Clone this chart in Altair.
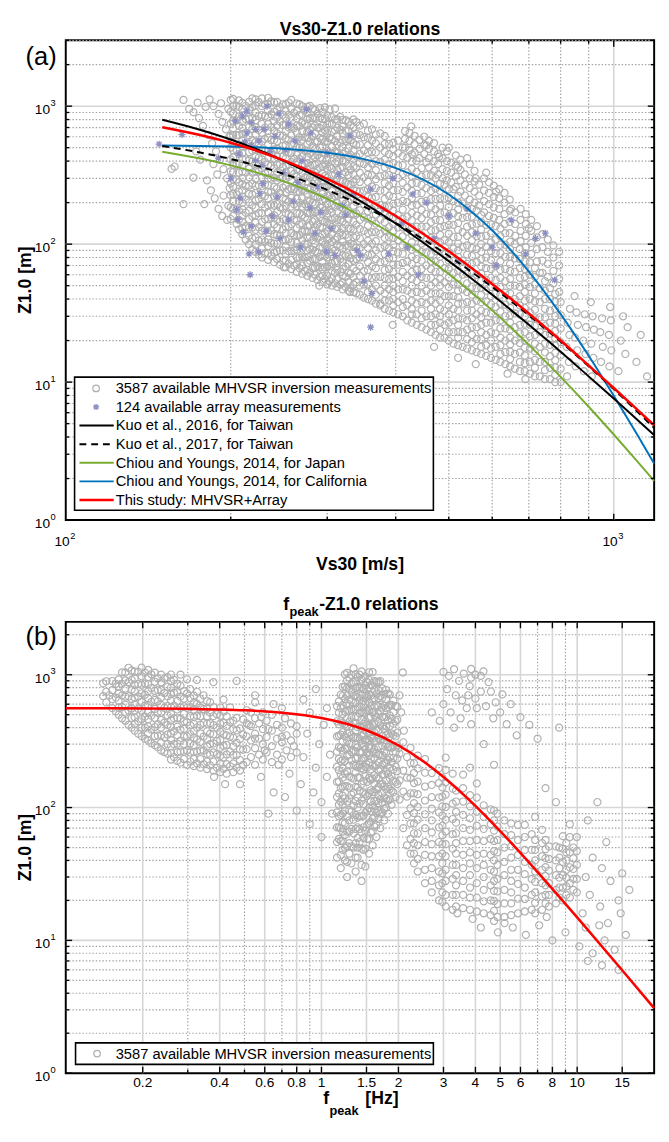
import altair as alt
import pandas as pd

FONT = "Liberation Sans"
GRAY = "#b0b0b0"
STAR_COLOR = "#8c8fc2"
STAR = "M-1,0L1,0M0,-1L0,1M-0.72,-0.72L0.72,0.72M-0.72,0.72L0.72,-0.72"

# ---------------- Panel (a): Vs30 - Z1.0 ----------------
VS_CURVE = [150, 175, 200, 250, 300, 350, 400, 450, 500, 550, 600, 700, 800, 900, 1000, 1100, 1185]
Z_KUO2016 = [797, 678, 573, 402, 281, 198, 141, 102, 75.3, 56.4, 42.9, 26.0, 16.6, 11.0, 7.6, 5.4, 4.13]
Z_KUO2017 = [514, 463, 414, 323, 247, 187, 142, 108, 82, 63, 49, 30.5, 19.6, 13.0, 8.9, 6.2, 4.65]
Z_CY_JAPAN = [467, 419, 372, 285, 213, 156, 114, 83.1, 60.7, 44.6, 33.1, 18.6, 10.9, 6.63, 4.17, 2.71, 1.92]
Z_CY_CALIF = [519, 515, 510, 491, 459, 413, 356, 292, 229, 172, 126, 63.3, 31.1, 15.5, 7.95, 4.25, 2.57]
Z_THIS_A = [705, 621, 543, 405, 297, 218, 160, 118, 88.7, 67.2, 51.5, 31.4, 20.0, 13.2, 9.07, 6.4, 4.86]

A_FLANK = [(156, 351), (158, 365), (164, 195), (179, 195), (171, 304), (164, 1110), (168, 955), (171, 905),
           (173, 470), (176, 410), (181, 290), (184, 245), (187, 215), (190, 180), (193, 160), (197, 150),
           (175, 820), (178, 720), (182, 620), (185, 540), (188, 470), (191, 410), (194, 350), (197, 300),
           (199, 255), (186, 1000), (190, 880), (193, 770), (196, 680), (199, 600), (183, 1120), (192, 1050),
           (198, 960), (180, 990), (174, 1060), (186, 380), (189, 320), (194, 225), (198, 190)]

A_CORE = {
    200: [152, 185, 226, 276, 337, 411, 501, 611, 746, 910, 1110],
    202: [160, 181, 204, 231, 261, 295, 333, 376, 425, 480, 543, 613, 693, 783, 885, 1000, 1130],
    205: [140, 179, 229, 294, 376, 481, 616, 788, 1009],
    207: [128, 150, 175, 205, 240, 281, 329, 385, 450, 527, 616, 721, 843, 987, 1100],
    210: [118, 131, 145, 161, 179, 199, 221, 245, 272, 302, 335, 372, 413, 458, 509, 565, 627, 696, 772, 857, 952, 1057],
    213: [108, 135, 169, 211, 264, 330, 412, 515, 644, 805, 1006],
    216: [100, 115, 132, 152, 175, 201, 231, 266, 306, 352, 405, 465, 535, 615, 708, 814, 936, 1076],
    219: [92, 110, 132, 159, 191, 229, 275, 330, 396, 475, 570, 684, 821, 985, 1140],
    222: [88, 99, 112, 127, 143, 162, 183, 207, 234, 264, 298, 337, 381, 430, 486, 549, 621, 701, 793, 896, 1012, 1120],
    225: [84, 106, 133, 168, 212, 267, 336, 424, 534, 673, 848, 1068],
    228: [80, 93, 108, 125, 145, 168, 195, 227, 263, 305, 354, 411, 476, 553, 641, 744, 863, 1001, 1140],
    231: [86, 104, 126, 152, 184, 223, 270, 327, 395, 478, 579, 700, 847, 1025],
    234: [77, 86, 97, 108, 121, 136, 152, 170, 191, 214, 239, 268, 300, 336, 377, 422, 472, 529, 592, 663, 743, 832, 932, 1044, 1150],
    237: [82, 102, 126, 156, 194, 240, 298, 370, 458, 568, 705, 874, 1084],
    240: [74, 87, 101, 118, 139, 162, 190, 222, 260, 304, 355, 416, 486, 569, 666, 779, 911, 1066],
    243: [78, 89, 101, 116, 132, 150, 171, 195, 223, 254, 290, 330, 376, 429, 489, 557, 635, 724, 826, 941, 1073],
    246: [71, 90, 115, 146, 185, 235, 298, 379, 481, 611, 776, 985],
    249: [76, 90, 108, 128, 152, 181, 216, 257, 305, 363, 432, 515, 612, 729, 867, 1032],
    252: [68, 76, 85, 96, 107, 120, 134, 150, 168, 189, 211, 237, 265, 297, 332, 372, 417, 467, 523, 586, 656, 735, 823, 922, 1033],
    255: [72, 89, 109, 134, 165, 203, 249, 307, 377, 464, 571, 702, 864, 1063],
    258: [66, 77, 89, 103, 120, 139, 161, 187, 217, 252, 292, 339, 393, 456, 529, 614, 712, 826, 958, 1111],
    261: [70, 90, 116, 150, 194, 250, 323, 416, 537, 693, 894],
    264: [63, 71, 80, 91, 102, 116, 131, 148, 167, 189, 213, 241, 272, 308, 348, 393, 444, 502, 567, 641, 724, 818, 925, 1045],
    267: [67, 80, 96, 116, 139, 167, 200, 240, 288, 346, 415, 498, 597, 717, 860, 1032],
    270: [61, 70, 81, 93, 107, 123, 141, 162, 187, 215, 247, 284, 327, 376, 432, 497, 571, 657, 756, 869, 999],
    273: [64, 80, 100, 125, 156, 195, 244, 305, 381, 477, 596, 745, 931],
    276: [59, 65, 73, 81, 90, 100, 111, 123, 136, 151, 168, 186, 207, 230, 255, 283, 314, 349, 387, 430, 477, 529, 588, 652, 724, 804, 892, 990],
    279: [62, 76, 92, 113, 137, 168, 205, 250, 304, 371, 453, 553, 674, 823, 1004],
    282: [57, 67, 78, 91, 107, 125, 146, 171, 200, 234, 274, 320, 375, 438, 513, 600, 702, 821, 961],
    285: [60, 68, 78, 89, 101, 115, 132, 150, 171, 195, 222, 253, 289, 329, 375, 428, 488, 556, 634, 723, 824, 939],
    288: [55, 69, 87, 110, 139, 175, 220, 277, 350, 440, 555, 699, 881],
    291: [58, 68, 81, 95, 113, 133, 157, 185, 218, 258, 304, 359, 423, 500, 590, 696, 821, 969],
    294: [53, 59, 66, 74, 83, 94, 105, 118, 132, 148, 165, 185, 207, 232, 260, 291, 326, 365, 409, 458, 513, 575, 644, 721, 808, 905],
    297: [56, 68, 82, 99, 120, 145, 176, 213, 258, 312, 377, 457, 553, 669, 809, 979],
    300: [51, 59, 69, 80, 92, 107, 124, 144, 167, 194, 225, 261, 303, 351, 407, 473, 548, 636, 738, 856],
    303: [54, 69, 87, 110, 140, 178, 226, 287, 365, 463, 588, 747, 949],
    306: [50, 57, 64, 72, 82, 92, 104, 118, 133, 150, 170, 192, 217, 245, 277, 313, 354, 400, 452, 511, 577, 652, 737, 833],
    310: [52, 62, 75, 90, 108, 129, 155, 186, 224, 268, 322, 386, 464, 557, 668, 802, 962],
    313: [49, 56, 65, 75, 86, 99, 113, 130, 150, 172, 198, 228, 262, 301, 346, 398, 458, 527, 606, 697, 801],
    317: [51, 63, 78, 97, 121, 150, 186, 230, 285, 354, 439, 544, 675, 837],
    320: [47, 53, 59, 66, 74, 83, 93, 104, 116, 130, 146, 163, 183, 205, 229, 257, 288, 322, 361, 404, 452, 507, 567, 635, 712, 797],
    324: [49, 58, 69, 82, 98, 117, 139, 165, 197, 234, 279, 332, 395, 470, 559, 665, 791],
    328: [46, 53, 62, 72, 83, 97, 112, 130, 151, 175, 203, 236, 273, 317, 368, 427, 495, 574, 666, 773],
    331: [48, 61, 79, 101, 129, 165, 211, 270, 346, 443, 567, 726],
    335: [45, 51, 58, 67, 76, 87, 99, 112, 128, 146, 166, 190, 216, 246, 281, 320, 365, 416, 474, 541, 616, 703, 801],
    339: [44, 53, 64, 78, 94, 114, 138, 167, 202, 244, 295, 357, 432, 523, 633, 766],
}

A_MID = {
    344: [43, 50, 59, 69, 80, 94, 110, 129, 150, 176, 206, 241, 282, 330, 386, 451, 528, 618, 723],
    350: [41, 51, 64, 80, 100, 125, 156, 195, 244, 305, 381, 477, 596, 745],
    356: [40, 45, 51, 58, 65, 74, 83, 94, 106, 120, 136, 153, 173, 196, 221, 250, 283, 319, 361, 408, 461, 521, 589, 665],
    362: [39, 47, 57, 69, 84, 101, 122, 148, 179, 217, 262, 317, 384, 465, 562, 680],
    368: [37, 43, 50, 58, 67, 78, 90, 105, 122, 141, 164, 190, 220, 255, 296, 344, 399, 463, 537, 623],
    375: [36, 46, 58, 74, 94, 119, 151, 192, 244, 310, 394, 500, 635],
    382: [34, 39, 44, 50, 57, 65, 75, 85, 97, 111, 126, 144, 164, 187, 213, 243, 277, 316, 360, 410, 468, 533, 608],
    389: [33, 39, 47, 56, 66, 79, 94, 112, 133, 158, 188, 224, 266, 317, 377, 449, 534],
    396: [32, 36, 40, 45, 50, 56, 63, 71, 79, 89, 99, 111, 125, 140, 156, 175, 196, 220, 246, 276, 309, 346, 387, 434, 486, 544],
    404: [31, 38, 47, 58, 71, 87, 107, 132, 162, 200, 246, 302, 372, 457, 562],
    412: [30, 35, 40, 47, 54, 63, 73, 85, 98, 114, 132, 153, 178, 206, 239, 278, 322, 374, 434, 503],
    420: [28, 36, 46, 59, 75, 96, 123, 158, 202, 258, 331, 423],
    428: [27, 31, 34, 39, 44, 50, 56, 63, 72, 81, 91, 103, 117, 132, 149, 168, 190, 215, 243, 275, 310, 351, 396, 448],
    437: [26, 31, 37, 45, 54, 65, 78, 93, 112, 134, 161, 193, 232, 278, 334, 401],
    446: [25, 29, 33, 38, 44, 50, 58, 66, 76, 88, 101, 116, 134, 154, 177, 203, 234, 269, 309, 356],
    455: [24, 30, 37, 46, 57, 70, 87, 108, 134, 166, 206, 255, 317, 393],
    464: [23, 26, 30, 34, 39, 44, 50, 57, 66, 75, 85, 97, 111, 126, 144, 164, 187, 213, 243, 277, 316],
}
A_MID_TOP = {
    416: [500, 580, 660], 424: [480, 560, 640], 433: [460, 530, 610], 442: [420, 490, 570],
    451: [450, 520, 600], 460: [360, 420, 490, 560],
}

A_HIGH = {
    473: [22, 26, 31, 37, 44, 53, 63, 75, 89, 106, 126, 150, 179, 213, 253, 301],
    482: [21, 24, 27, 30, 34, 39, 44, 50, 56, 63, 72, 81, 91, 103, 117, 132, 149, 168, 190, 215, 243, 275],
    491: [21, 26, 33, 42, 53, 67, 85, 107, 135, 170, 214, 270],
    500: [20, 23, 27, 31, 36, 42, 49, 57, 66, 76, 88, 103, 119, 138, 160, 186, 216, 250],
    510: [19, 23, 28, 34, 42, 51, 62, 76, 93, 113, 138, 168, 205, 250],
    520: [18.5, 21, 23, 26, 29, 33, 37, 41, 46, 51, 57, 64, 72, 81, 90, 101, 113, 127, 142, 159, 178, 200, 224],
    530: [18, 23, 29, 37, 47, 60, 76, 96, 122, 155, 197],
    540: [17.5, 20.5, 24, 28, 33, 38, 45, 52, 61, 72, 84, 98, 115, 134, 157, 184],
    551: [17, 19.5, 22, 25, 29, 33, 37, 43, 49, 55, 63, 72, 82, 94, 107, 122, 139, 158, 180],
    562: [16.5, 20.5, 25, 31, 39, 48, 60, 74, 92, 114, 141, 175],
    573: [16, 18, 20.5, 23, 26, 29.5, 33, 38, 43, 48, 54, 61, 69, 78, 88, 100, 113, 128, 144, 163],
    585: [15.5, 18.5, 22, 27, 32, 38.5, 46, 55, 67, 80, 96, 115, 138],
    597: [15, 17.5, 20, 23, 27, 31.5, 36.5, 42, 49, 57, 66, 77, 89, 103, 120, 139],
    609: [14.5, 18, 22.5, 28, 35, 44, 55, 69, 86, 108, 135],
}
A_HIGH_TOP = {
    470: [340, 400, 470, 540], 478: [320, 380, 450], 487: [300, 350, 420, 500], 496: [290, 340, 400, 470],
    505: [280, 330, 390], 515: [260, 310, 370, 440], 525: [240, 290, 345, 410], 535: [225, 270, 320],
    546: [210, 255, 300, 380], 557: [200, 240, 285, 340], 568: [190, 225, 270], 580: [170, 205, 245, 300],
    592: [160, 195, 235, 280], 604: [155, 185, 220, 265],
}

A_STIFF = {
    621: [14, 16, 18.5, 21, 24.5, 28, 32.5, 37, 43, 49, 57, 65, 75, 86, 99, 114, 130],
    634: [13.5, 16.5, 20, 24.5, 30, 36.5, 44.5, 54, 66, 81, 99, 120],
    647: [13, 14.7, 16.6, 18.8, 21, 24, 27, 30.5, 34.5, 39, 44, 50, 56, 64, 72, 81, 92, 104],
    660: [12.5, 16, 20, 25, 31.5, 40, 50, 63, 79, 100],
    674: [12, 14, 16.4, 19.2, 22.5, 26, 31, 36, 42, 49, 57, 67, 78, 92],
    688: [12, 13.7, 15.6, 17.8, 20, 23, 26.5, 30, 34.5, 39, 45, 51, 58, 66, 75, 86],
    703: [11.5, 14, 17.5, 21.5, 26, 32, 40, 49, 60, 74],
    718: [11, 12.7, 14.5, 16.7, 19, 22, 25.5, 29, 33.5, 38.5, 44, 51, 58, 67],
    733: [11, 14, 18, 23, 29.5, 38, 48, 62],
    749: [10.5, 12.2, 14, 16.4, 19, 22, 25.5, 29.5, 34, 40, 46, 54],
    765: [10.5, 12.7, 15.4, 18.6, 22.5, 27, 33, 40, 48],
    782: [10, 11.3, 12.8, 14.4, 16.3, 18.4, 20.8, 23.5, 26.5, 30, 34, 38.5, 43.5],
    800: [10, 12.5, 15.6, 19.5, 24.4, 30.5, 38],
}
A_STIFF_TOP = {
    618: [150, 180, 215, 250], 632: [140, 165, 200, 235], 646: [120, 145, 175, 210], 661: [115, 140, 170],
    676: [105, 125, 150, 180], 691: [95, 115, 140, 165], 707: [85, 102, 125, 150], 724: [75, 92, 112, 135],
    741: [62, 76, 95, 118], 758: [58, 72, 88, 108], 776: [52, 64, 80, 98], 795: [45, 56, 70, 88],
}

A_ROCK = [(822, 11), (828, 14), (820, 18), (830, 22), (824, 27), (832, 34), (852, 13), (858, 17), (850, 21),
          (860, 26), (855, 32), (848, 42), (882, 12), (888, 16), (880, 20), (890, 25), (885, 31), (912, 11),
          (918, 15), (910, 19), (920, 24), (915, 30), (908, 38), (948, 14), (955, 18), (945, 23), (952, 29),
          (982, 13), (990, 17), (980, 22), (988, 28), (985, 35), (1020, 12), (1030, 20), (1050, 16),
          (1060, 25), (1100, 14), (1120, 22), (1150, 11), (1040, 30)]

A_OUTLIERS = [(427, 713), (455, 520), (480, 430), (500, 500), (520, 360), (540, 420), (560, 300),
              (585, 330), (610, 240), (650, 180), (700, 130), (375, 37), (395, 26), (330, 45), (290, 50),
              (250, 68), (470, 18), (520, 15), (560, 13.5), (640, 11.5), (690, 10.5)]

A_ARRAY = [(148, 531), (163, 622), (204, 783), (210, 850), (214, 920), (218, 760), (212, 550), (218, 520),
           (222, 403), (228, 371), (229, 275), (226, 233), (208, 216), (205, 178), (206, 151), (218, 135),
           (211, 122), (216, 85), (225, 88), (217, 60), (232, 124), (243, 220), (241, 604), (230, 680),
           (270, 403), (279, 183), (299, 88), (310, 83), (324, 163), (340, 90), (345, 83), (350, 54),
           (362, 44), (388, 85), (236, 470), (250, 330), (262, 560), (255, 740), (288, 260), (300, 460),
           (315, 320), (330, 610), (360, 250), (380, 180), (410, 140), (430, 230), (470, 110), (500, 160),
           (520, 75), (560, 120), (600, 95), (650, 150), (720, 110), (780, 55), (255, 150), (268, 95),
           (285, 120), (200, 300), (190, 420), (245, 880), (275, 950), (233, 1000), (222, 680), (252, 480),
           (280, 640), (320, 190), (395, 300), (440, 60), (360, 25), (265, 280), (238, 160), (246, 110),
           (260, 205), (292, 170), (305, 130), (335, 230), (420, 95), (455, 200), (540, 180), (610, 70),
           (690, 85), (750, 120), (225, 560), (214, 640), (207, 450)]

LEGEND_A = ["3587 available MHVSR inversion measurements", "124 available array measurements",
            "Kuo et al., 2016, for Taiwan", "Kuo et al., 2017, for Taiwan",
            "Chiou and Youngs, 2014, for Japan", "Chiou and Youngs, 2014, for California",
            "This study: MHVSR+Array"]

# ---------------- Panel (b): fpeak - Z1.0 ----------------
F_CURVE = [0.1, 0.2, 0.3, 0.5, 0.7, 1.0, 1.5, 2.0, 2.5, 3.0, 4.0, 5.0, 7.0, 10.0, 15.0, 20.0]
Z_THIS_B = [559.5, 557.5, 553.6, 540, 518, 473, 382, 294, 223, 170, 103, 66.4, 32.7, 14.9, 5.96, 3.09]

B_LOWF = {
    0.140: [690, 862], 0.144: [620, 744, 893], 0.148: [700], 0.152: [560, 655, 766, 897],
    0.157: [530, 673, 855], 0.161: [500, 565, 638, 721, 815, 921], 0.166: [470, 573, 699, 853, 1041],
    0.171: [450, 518, 595, 684, 787, 905, 1041], 0.176: [420, 538, 688, 881, 1128],
    0.181: [400, 472, 557, 657, 775, 915, 1079], 0.186: [380, 426, 477, 534, 598, 670, 750, 840, 941, 1054],
    0.192: [360, 446, 554, 686, 851, 1055], 0.198: [345, 400, 464, 538, 625, 725, 841, 975, 1131],
    0.204: [330, 399, 483, 585, 707, 856, 1036],
    0.210: [320, 362, 409, 462, 522, 590, 666, 753, 851, 961, 1086],
    0.216: [305, 387, 492, 625, 794, 1008], 0.223: [295, 345, 404, 472, 553, 647, 757, 885, 1036],
    0.229: [285, 348, 424, 517, 631, 770, 939],
    0.236: [270, 308, 351, 400, 456, 520, 593, 676, 770, 878, 1001],
    0.243: [262, 338, 436, 563, 726, 936], 0.250: [255, 301, 355, 419, 494, 583, 688, 812, 958],
    0.258: [230, 258, 289, 323, 362, 405, 454, 508, 569, 638, 714, 800, 896, 1003],
    0.265: [240, 300, 375, 469, 586, 732, 915], 0.273: [225, 261, 303, 351, 407, 472, 548, 636, 737, 855],
    0.281: [218, 264, 319, 386, 467, 565, 684, 828, 1002], 0.290: [232, 264, 301, 343, 391, 446, 508, 580, 661, 753],
    0.298: [210, 269, 344, 440, 564, 722, 924], 0.307: [222, 260, 304, 356, 416, 487, 570, 667, 780],
    0.317: [205, 232, 262, 296, 334, 378, 427, 482, 545, 616, 696],
    0.326: [215, 264, 325, 400, 492, 605, 744, 915], 0.336: [200, 232, 269, 312, 362, 420, 487, 565, 656],
    0.346: [212, 269, 342, 434, 551, 700], 0.357: [195, 222, 253, 289, 329, 375, 428, 488, 556, 634],
    0.367: [208, 250, 300, 360, 432, 518, 622], 0.378: [190, 222, 260, 304, 356, 417, 488, 570, 880],
    0.390: [200, 252, 318, 400, 504], 0.402: [185, 213, 245, 281, 323, 372, 428, 492, 566],
    0.414: [196, 239, 292, 356, 434, 530, 650], 0.426: [180, 212, 251, 296, 349, 412, 486],
    0.439: [205, 264, 341, 440, 568], 0.452: [185, 215, 249, 289, 335, 389, 451],
    0.466: [200, 248, 308, 381, 473, 900], 0.480: [190, 228, 274, 328, 394], 0.494: [210, 273, 355, 461],
    0.51: [220, 275, 344, 430, 540], 0.53: [240, 320, 410, 520], 0.55: [210, 280, 360, 470, 620],
    0.57: [250, 330, 430], 0.59: [230, 300, 390, 520], 0.61: [260, 340, 450], 0.64: [220, 290, 380, 500],
    0.67: [250, 330, 420], 0.70: [230, 310, 400, 560], 0.73: [270, 350], 0.76: [240, 320, 430],
    0.80: [260, 360],
}

B_MID = [(0.52, 420), (0.55, 330), (0.58, 480), (0.60, 270), (0.62, 390), (0.65, 600), (0.68, 210),
         (0.70, 340), (0.72, 470), (0.75, 180), (0.78, 290), (0.80, 410), (0.83, 150), (0.85, 240),
         (0.88, 360), (0.90, 520), (0.93, 130), (0.95, 200), (0.98, 300), (1.00, 110), (1.02, 420),
         (1.05, 170), (1.08, 250), (1.10, 90), (0.65, 130), (0.58, 170), (0.80, 95), (0.72, 120),
         (0.90, 75), (1.00, 60), (0.55, 700), (0.85, 650), (0.95, 780), (1.05, 560), (0.42, 150),
         (0.48, 150), (0.38, 170), (0.62, 90)]

B_CORE = {
    1.15: [42, 55, 71, 92, 120, 156, 203, 264, 343, 446, 580],
    1.17: [58, 71, 86, 105, 128, 157, 191, 233, 285, 347, 424, 517, 630],
    1.19: [35, 44, 56, 70, 88, 111, 140, 177, 223, 281, 354, 446, 562, 708],
    1.21: [48, 56, 66, 77, 90, 105, 123, 144, 168, 197, 230, 269, 315, 369, 432, 505, 591, 691, 809],
    1.235: [40, 50, 62, 76, 95, 117, 145, 180, 224, 277, 344, 426, 529, 656, 813, 1008],
    1.26: [30, 39, 51, 66, 86, 111, 145, 188, 244, 279, 318, 362, 413, 471, 537, 612, 697, 795, 906, 1033],
    1.285: [45, 54, 66, 80, 96, 117, 141, 171, 207, 250, 303, 367, 444, 537, 650, 786, 951],
    1.31: [38, 51, 69, 93, 125, 168, 226, 262, 304, 353, 410, 475, 551, 640, 742, 861, 998],
    1.335: [50, 64, 81, 103, 130, 165, 210, 267, 339, 430, 546, 694, 881, 1119],
    1.36: [33, 42, 54, 69, 88, 112, 143, 183, 207, 233, 264, 298, 337, 380, 430, 486, 549, 620, 701, 792, 895, 1011],
    1.385: [42, 50, 59, 71, 84, 100, 119, 142, 169, 201, 239, 284, 338, 403, 479, 570, 679, 808, 961],
    1.41: [55, 69, 86, 107, 134, 168, 210, 262, 328, 410, 512, 640, 800, 1000],
    1.435: [28, 37, 49, 65, 86, 113, 150, 198, 228, 262, 301, 346, 398, 458, 527, 606, 697, 801, 921, 1060],
    1.46: [48, 59, 71, 87, 106, 130, 158, 193, 235, 287, 350, 427, 521, 636, 776, 946],
    1.485: [36, 49, 67, 92, 126, 173, 202, 237, 277, 324, 379, 444, 519, 607, 711, 831, 973],
    1.51: [58, 74, 95, 122, 156, 200, 256, 327, 419, 536, 686, 878],
    1.535: [45, 58, 76, 99, 128, 167, 217, 247, 282, 321, 366, 417, 476, 542, 618, 705, 803, 916, 1044],
    1.56: [65, 78, 94, 112, 135, 162, 194, 233, 280, 336, 403, 484, 580, 697, 836],
    1.585: [52, 66, 83, 104, 131, 165, 208, 262, 330, 416, 524, 660, 832, 1048],
    1.61: [72, 84, 97, 112, 130, 151, 175, 203, 236, 274, 317, 368, 427, 495, 575, 667, 773, 897],
    1.64: [60, 74, 91, 112, 137, 169, 208, 256, 315, 387, 476, 586, 720, 886],
    1.67: [82, 94, 108, 125, 143, 165, 190, 218, 251, 288, 332, 381, 439, 504, 580, 667, 767, 882],
    1.70: [70, 90, 116, 150, 194, 250, 323, 416, 537, 693, 894],
    1.73: [92, 109, 128, 151, 178, 210, 248, 293, 345, 408, 481, 568, 670, 790],
    1.76: [80, 98, 119, 145, 177, 216, 264, 322, 392, 479, 584, 712],
    1.79: [100, 117, 137, 160, 187, 219, 257, 300, 351, 411, 481, 562, 658, 770],
    1.82: [90, 113, 143, 180, 227, 286, 360, 454, 572, 721],
    1.85: [115, 138, 166, 199, 238, 286, 343, 412, 494, 593, 712],
    1.88: [105, 134, 172, 220, 282, 361, 462, 592],
    1.91: [130, 159, 193, 236, 288, 351, 428, 523, 638],
    1.95: [120, 156, 203, 264, 343, 446, 580],
    1.98: [150, 188, 234, 293, 366, 458, 572],
}

B_UPPER = [(3.85, 1105), (4.0, 1000), (4.2, 980), (3.85, 950), (4.2, 747), (4.6, 747), (5.1, 711), (4.0, 660),
           (3.8, 820), (4.7, 470), (5.3, 424), (3.85, 424), (8.5, 400), (3.0, 1050), (3.15, 980), (3.3, 1100),
           (3.45, 900), (3.6, 1020), (3.1, 780), (3.35, 700), (3.55, 640), (3.7, 560), (3.0, 600), (3.2, 520),
           (3.5, 470), (4.4, 580), (4.5, 880), (4.8, 620), (5.0, 520), (5.5, 600), (6.0, 480), (6.5, 420),
           (3.3, 400), (2.9, 450), (4.3, 1060), (3.75, 700), (4.05, 560), (5.8, 350), (7.0, 330), (2.7, 520),
           (2.02, 700), (2.08, 1040), (2.05, 520), (2.1, 380), (2.0, 280)]

B_HIGH = {
    2.02: [115, 160, 255], 2.09: [70, 132, 190, 310], 2.16: [52, 88, 121, 168, 240],
    2.23: [45, 58, 76, 99, 128, 167, 217, 282],
    2.3: [38, 45, 54, 64, 76, 91, 108, 128, 153, 182, 216],
    2.38: [33, 41, 52, 64, 81, 101, 126, 157, 197, 246],
    2.54: [27, 34, 44, 55, 70, 89, 113, 144, 183, 232],
    2.7: [23, 28, 35, 43, 53, 65, 80, 98, 120, 148, 182],
    2.88: [20, 26, 33, 43, 55, 71, 92, 119, 153, 198],
    2.97: [19.5, 23, 27, 32, 38, 45, 53, 62, 73, 87, 102, 121, 142, 168],
    3.06: [18, 22, 28, 34, 43, 53, 66, 81, 101, 125, 155, 192, 238],
    3.26: [17, 22, 29, 37, 49, 63, 82, 107, 139, 180],
    3.36: [18, 22, 26, 31, 37, 45, 54, 64, 77, 93, 111, 134],
    3.58: [17.5, 22, 28, 35, 44, 56, 70, 88, 111, 140, 177],
    3.81: [17, 21, 25, 31, 38, 46, 56, 68, 83, 102, 124, 200],
    4.05: [16.5, 21, 27, 35, 44, 57, 73, 93, 119, 152],
    4.31: [16, 19.7, 24, 30, 37, 45, 56, 69, 85, 104, 300],
    4.59: [15.5, 20, 26, 34, 44, 58, 75, 97],
    4.73: [14, 16.7, 19.8, 23.6, 28, 33, 40, 47, 56, 67, 80, 95, 210],
    4.88: [15, 18.8, 23.4, 29, 37, 46, 57, 72, 90],
    5.19: [15, 19, 24, 31, 39, 50, 63, 80],
    5.52: [15.5, 19, 23, 28, 34, 42, 51, 62, 76],
    5.87: [16, 20.6, 26.6, 34, 44, 57, 74],
    6.24: [16.5, 20.5, 25, 31.5, 39, 48, 60, 74],
    6.64: [17, 22, 29, 37, 48, 63],
    6.85: [16, 19.2, 23, 27.6, 33, 40, 48, 57, 85],
    7.29: [17, 21.4, 27, 34, 43, 54, 68],
    7.52: [19, 22, 26, 30.5, 35.6, 41.6, 48.7, 57, 140],
    7.76: [18, 22, 27, 33.5, 41, 51],
    8.26: [19, 24, 31, 40, 51, 110],
    8.52: [21, 25, 29.7, 35, 42, 50],
    8.79: [20, 25, 31, 39, 49, 61],
    9.07: [22, 25.5, 29.6, 34, 40, 46, 54],
    9.36: [21, 27, 35.5, 46, 60, 75],
    9.66: [24, 29, 34.5, 41.5, 50],
    9.97: [23, 29, 37, 47, 60],
}

B_FAR = [(10.8, 30), (11.5, 42), (11.2, 22), (12.3, 18), (12.5, 35), (13.5, 28), (14.5, 20), (15.0, 32),
         (16.0, 24), (13.0, 55), (11.0, 80), (12.0, 110), (10.5, 16), (14.8, 16), (12.2, 13),
         (4.2, 12.5), (4.9, 11.5), (5.6, 12.5), (6.3, 11), (7.1, 13), (8.0, 10), (9.0, 11.5), (10.2, 9),
         (11.5, 8), (12.8, 10), (14.0, 8.5), (15.5, 11), (13.2, 13.5), (10.8, 12.5), (7.6, 15),
         (5.2, 13.5), (3.9, 14.5), (3.4, 16), (12.5, 6.5), (14.5, 6), (11.0, 7)]

B_XTICKS = [0.2, 0.4, 0.6, 0.8, 1, 1.5, 2, 3, 4, 5, 6, 8, 10, 15]
B_XTICK_LABELS = ["0.2", "0.4", "0.6", "0.8", "1", "1.5", "2", "3", "4", "5", "6", "8", "10", "15"]
B_XMINOR = [0.3, 0.5, 0.7, 0.9, 7, 9]

A_XMINOR = [200, 300, 400, 500, 600, 700, 800, 900]
A_XMAJOR = [1000]
Y_MAJOR = [1, 10, 100, 1000]
Y_EXP = ["0", "1", "2", "3"]
Y_MINOR = [2, 3, 4, 5, 6, 7, 8, 9, 20, 30, 40, 50, 60, 70, 80, 90,
           200, 300, 400, 500, 600, 700, 800, 900, 2000, 3000]


# ---------------- helpers ----------------
def cols(d):
    return [(k, v) for k, vs in d.items() for v in vs]


def pts_df(*groups):
    rows = []
    for g in groups:
        rows.extend(g)
    return pd.DataFrame(rows, columns=["x", "y"])


def one(text):
    return pd.DataFrame({"t": [text]})


def txt(text, x, y, **kw):
    props = dict(font=FONT, color="black")
    props.update(kw)
    return alt.Chart(one(text)).mark_text(**props).encode(x=alt.value(x), y=alt.value(y), text="t:N")


def grid_layers(xs, ys, W, H, xmajor, xminor, ymajor, yminor):
    ex = alt.X("x:Q", scale=xs, axis=None)
    ey = alt.Y("y:Q", scale=ys, axis=None)
    minor = dict(color="#a3a3a3", strokeWidth=1.2, strokeDash=[1.5, 1.9])
    major = dict(color="#d6d6d6", strokeWidth=1.6)
    out = []
    out.append(alt.Chart(pd.DataFrame({"x": xminor})).mark_rule(**minor).encode(
        x=ex, y=alt.value(0), y2=alt.value(H)))
    out.append(alt.Chart(pd.DataFrame({"y": yminor})).mark_rule(**minor).encode(
        y=ey, x=alt.value(0), x2=alt.value(W)))
    out.append(alt.Chart(pd.DataFrame({"x": xmajor})).mark_rule(**major).encode(
        x=ex, y=alt.value(0), y2=alt.value(H)))
    out.append(alt.Chart(pd.DataFrame({"y": ymajor})).mark_rule(**major).encode(
        y=ey, x=alt.value(0), x2=alt.value(W)))
    return out


def tick_layers(xs, ys, W, H, xmajor, xminor, ymajor, yminor):
    ex = alt.X("x:Q", scale=xs, axis=None)
    ey = alt.Y("y:Q", scale=ys, axis=None)
    st = dict(color="black", strokeWidth=1.4)
    out = []
    for vals, L in ((xmajor, 6.5), (xminor, 3.5)):
        df = pd.DataFrame({"x": vals})
        out.append(alt.Chart(df).mark_rule(**st).encode(x=ex, y=alt.value(H - L), y2=alt.value(H)))
        out.append(alt.Chart(df).mark_rule(**st).encode(x=ex, y=alt.value(0), y2=alt.value(L)))
    for vals, L in ((ymajor, 6.5), (yminor, 3.5)):
        df = pd.DataFrame({"y": vals})
        out.append(alt.Chart(df).mark_rule(**st).encode(y=ey, x=alt.value(0), x2=alt.value(L)))
        out.append(alt.Chart(df).mark_rule(**st).encode(y=ey, x=alt.value(W - L), x2=alt.value(W)))
    return out


def ylabel_layers(ys):
    ey = alt.Y("y:Q", scale=ys, axis=None)
    df = pd.DataFrame({"y": Y_MAJOR, "e": Y_EXP})
    base = alt.Chart(df).mark_text(font=FONT, fontSize=14, align="right", baseline="middle", dy=4,
                                   color="black").encode(y=ey, x=alt.value(-16), text=alt.value("10"))
    exp = alt.Chart(df).mark_text(font=FONT, fontSize=9.5, align="left", baseline="middle", dy=-3.5,
                                  color="black").encode(y=ey, x=alt.value(-15.5), text="e:N")
    return [base, exp]


def scatter(df, xs, ys):
    return alt.Chart(df).mark_point(shape="circle", filled=False, size=52, color=GRAY, strokeWidth=1.2,
                                    opacity=1).encode(
        x=alt.X("x:Q", scale=xs, axis=None), y=alt.Y("y:Q", scale=ys, axis=None))


def curve(xv, yv, xs, ys, color, width=2.0, dash=None):
    props = dict(color=color, strokeWidth=width, interpolate="monotone")
    if dash:
        props["strokeDash"] = dash
    return alt.Chart(pd.DataFrame({"x": xv, "y": yv})).mark_line(**props).encode(
        x=alt.X("x:Q", scale=xs, axis=None), y=alt.Y("y:Q", scale=ys, axis=None))


# ---------------- panel (a) ----------------
WA, HA = 601, 490
xs_a = alt.Scale(type="log", domain=[100, 1185], nice=False)
ys_a = alt.Scale(type="log", domain=[1, 3000], nice=False)

layers_a = []
layers_a.append(alt.Chart(one("")).mark_rule(color="white", strokeWidth=1).encode(
    x=alt.value(-57.5), x2=alt.value(-56.5), y=alt.value(-19.5)))
layers_a += grid_layers(xs_a, ys_a, WA, HA, A_XMAJOR, A_XMINOR, Y_MAJOR[1:], Y_MINOR)
mh_a = pts_df(A_FLANK, cols(A_CORE), cols(A_MID), cols(A_MID_TOP), cols(A_HIGH), cols(A_HIGH_TOP),
              cols(A_STIFF), cols(A_STIFF_TOP), A_ROCK, A_OUTLIERS)
layers_a.append(scatter(mh_a, xs_a, ys_a))
layers_a.append(alt.Chart(pts_df(A_ARRAY)).mark_point(shape=STAR, filled=False, size=50, color=STAR_COLOR,
                                                       strokeWidth=1.3, opacity=1).encode(
    x=alt.X("x:Q", scale=xs_a, axis=None), y=alt.Y("y:Q", scale=ys_a, axis=None)))
layers_a.append(curve(VS_CURVE, Z_CY_JAPAN, xs_a, ys_a, "#77AC30"))
layers_a.append(curve(VS_CURVE, Z_CY_CALIF, xs_a, ys_a, "#0072BD"))
layers_a.append(curve(VS_CURVE, Z_KUO2017, xs_a, ys_a, "black", dash=[7, 5]))
layers_a.append(curve(VS_CURVE, Z_KUO2016, xs_a, ys_a, "black"))
layers_a.append(curve(VS_CURVE, Z_THIS_A, xs_a, ys_a, "#FF0000", width=2.6))
layers_a += tick_layers(xs_a, ys_a, WA, HA, A_XMAJOR, A_XMINOR, Y_MAJOR, Y_MINOR)
layers_a += ylabel_layers(ys_a)

xl_a = pd.DataFrame({"x": [100, 1000], "e": ["2", "3"]})
layers_a.append(alt.Chart(xl_a).mark_text(font=FONT, fontSize=14, align="right", baseline="middle", dx=4,
                                          color="black").encode(
    x=alt.X("x:Q", scale=xs_a, axis=None), y=alt.value(HA + 23), text=alt.value("10")))
layers_a.append(alt.Chart(xl_a).mark_text(font=FONT, fontSize=9.5, align="left", baseline="middle", dx=4.5,
                                          color="black").encode(
    x=alt.X("x:Q", scale=xs_a, axis=None), y=alt.value(HA + 16.5), text="e:N"))

layers_a.append(alt.Chart(one("")).mark_rect(fill="white", stroke="black", strokeWidth=1.6).encode(
    x=alt.value(9), x2=alt.value(375.5), y=alt.value(344), y2=alt.value(480)))
row_y = [355.5 + 19 * i for i in range(7)]
layers_a.append(alt.Chart(one("")).mark_point(shape="circle", filled=False, size=46, color=GRAY,
                                              strokeWidth=1.2, opacity=1).encode(
    x=alt.value(31), y=alt.value(row_y[0])))
layers_a.append(alt.Chart(one("")).mark_point(shape=STAR, filled=False, size=40, color=STAR_COLOR,
                                              strokeWidth=1.3, opacity=1).encode(
    x=alt.value(31), y=alt.value(row_y[1])))
leg_lines = [("black", 2.0, None), ("black", 2.0, [7, 5]), ("#77AC30", 2.0, None),
             ("#0072BD", 2.0, None), ("#FF0000", 2.6, None)]
for i, (c, w, d) in enumerate(leg_lines):
    props = dict(color=c, strokeWidth=w)
    if d:
        props["strokeDash"] = d
    layers_a.append(alt.Chart(one("")).mark_rule(**props).encode(
        x=alt.value(14), x2=alt.value(49), y=alt.value(row_y[i + 2])))
for i, lab in enumerate(LEGEND_A):
    layers_a.append(txt(lab, 51, row_y[i], fontSize=15, align="left", baseline="middle"))

layers_a.append(txt("Vs30-Z1.0 relations", WA / 2, -5.6, fontSize=18, fontWeight="bold", align="center",
                    baseline="alphabetic"))
layers_a.append(txt("Vs30 [m/s]", WA / 2, 541.4, fontSize=18, fontWeight="bold", align="center",
                    baseline="alphabetic"))
layers_a.append(txt("Z1.0 [m]", -41, HA / 2, fontSize=18, fontWeight="bold", align="center",
                    baseline="middle", angle=270))
layers_a.append(txt("(a)", -41, 17, fontSize=26, align="left", baseline="middle"))

panel_a = alt.layer(*layers_a).properties(width=WA, height=HA)

# ---------------- panel (b) ----------------
WB, HB = 601, 461
xs_b = alt.Scale(type="log", domain=[0.1, 20], nice=False)
ys_b = alt.Scale(type="log", domain=[1, 2500], nice=False)

layers_b = []
layers_b += grid_layers(xs_b, ys_b, WB, HB, B_XTICKS, B_XMINOR, Y_MAJOR[1:], Y_MINOR[:-1])
mh_b = pts_df(cols(B_LOWF), B_MID, cols(B_CORE), B_UPPER, cols(B_HIGH), B_FAR)
layers_b.append(scatter(mh_b, xs_b, ys_b))
layers_b.append(curve(F_CURVE, Z_THIS_B, xs_b, ys_b, "#FF0000", width=2.6))
layers_b += tick_layers(xs_b, ys_b, WB, HB, B_XTICKS, B_XMINOR, Y_MAJOR, Y_MINOR[:-1])
layers_b += ylabel_layers(ys_b)
layers_b.append(alt.Chart(pd.DataFrame({"x": B_XTICKS, "l": B_XTICK_LABELS})).mark_text(
    font=FONT, fontSize=14, align="center", baseline="middle", color="black").encode(
    x=alt.X("x:Q", scale=xs_b, axis=None), y=alt.value(HB + 10.5), text="l:N"))

layers_b.append(alt.Chart(one("")).mark_rect(fill="white", stroke="black", strokeWidth=1.6).encode(
    x=alt.value(10), x2=alt.value(375.5), y=alt.value(430), y2=alt.value(452)))
layers_b.append(alt.Chart(one("")).mark_point(shape="circle", filled=False, size=46, color=GRAY,
                                              strokeWidth=1.2, opacity=1).encode(
    x=alt.value(32), y=alt.value(441)))
layers_b.append(txt(LEGEND_A[0], 51, 441, fontSize=15, align="left", baseline="middle"))

layers_b.append(txt("f", 228.2, -12.6, fontSize=18, fontWeight="bold", align="right", baseline="alphabetic"))
layers_b.append(txt("peak", 228.6, -5.6, fontSize=13, fontWeight="bold", align="left", baseline="alphabetic"))
layers_b.append(txt("-Z1.0 relations", 258.8, -12.6, fontSize=18, fontWeight="bold", align="left",
                    baseline="alphabetic"))
layers_b.append(txt("f", 269, 492.4, fontSize=18, fontWeight="bold", align="right", baseline="alphabetic"))
layers_b.append(txt("peak", 269.4, 503.4, fontSize=13, fontWeight="bold", align="left", baseline="alphabetic"))
layers_b.append(txt("[Hz]", 306, 492.4, fontSize=18, fontWeight="bold", align="left", baseline="alphabetic"))
layers_b.append(txt("Z1.0 [m]", -41, HB / 2, fontSize=18, fontWeight="bold", align="center",
                    baseline="middle", angle=270))
layers_b.append(txt("(b)", -41, 16, fontSize=26, align="left", baseline="middle"))

panel_b = alt.layer(*layers_b).properties(width=WB, height=HB)

chart = alt.vconcat(panel_a, panel_b, spacing=104, bounds="flush").properties(
    padding=0
).configure_view(stroke="black", strokeWidth=2)

chart.save("out.html", embed_options={"renderer": "svg", "actions": False})
